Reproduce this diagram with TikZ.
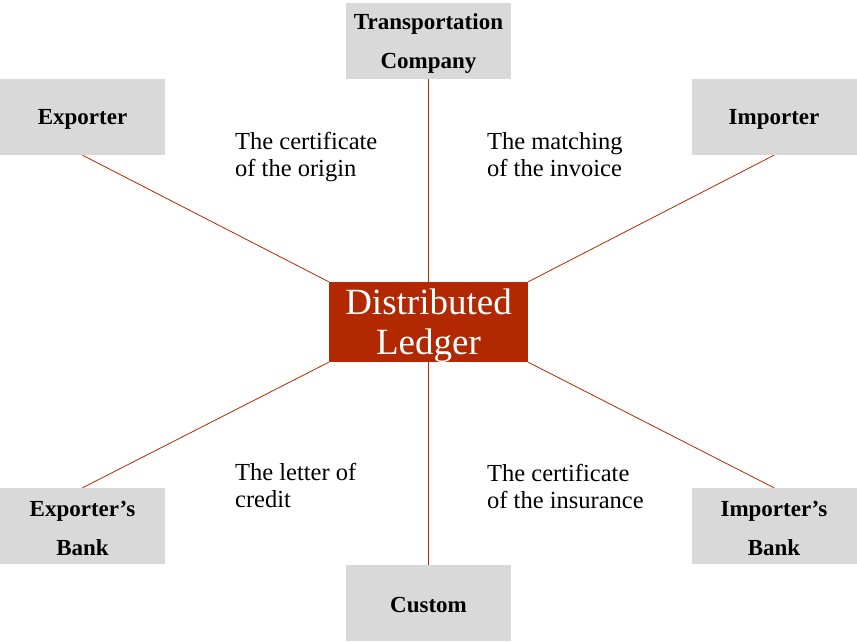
\documentclass[tikz,border=0pt]{standalone}
\usepackage{fontspec}
\setmainfont{Liberation Serif}
\definecolor{ledger}{RGB}{178,40,0}
\definecolor{boxgray}{RGB}{217,217,217}
\begin{document}
\begin{tikzpicture}[x=1pt,y=-1pt,
  party/.style={fill=boxgray,draw=none,minimum width=165pt,minimum height=76pt,inner sep=0pt},
  ptext/.style={yshift=-2.5pt,inner sep=0pt,align=center,font=\fontsize{23}{39}\selectfont\bfseries,text=black},
  hub/.style={fill=ledger,draw=none,minimum width=199pt,minimum height=80pt,inner sep=0pt},
  htext/.style={yshift=-4pt,inner sep=0pt,align=center,font=\fontsize{37}{40}\selectfont,text=white},
  note/.style={anchor=north west,inner sep=0pt,align=left,font=\fontsize{24.5}{27}\selectfont},
  link/.style={draw=ledger,line width=0.8pt}]
\useasboundingbox (0,0) rectangle (857,642);
\node[hub,label={[htext]center:{Distributed\\Ledger}}] (dl) at (428.5,322) {};
\node[party,label={[ptext]center:{Transportation\\Company}}] (tc) at (428.5,41) {};
\node[party,label={[ptext]center:Exporter}] (ex) at (82.5,117) {};
\node[party,label={[ptext]center:Importer}] (im) at (774,117) {};
\node[party,label={[ptext]center:{Exporter’s\\Bank}}] (eb) at (82.5,526) {};
\node[party,label={[ptext]center:{Importer’s\\Bank}}] (ib) at (774,526) {};
\node[party,label={[ptext]center:Custom}] (cu) at (428.5,603) {};
\draw[link] (tc.south) -- (dl.north);
\draw[link] (cu.north) -- (dl.south);
\draw[link] (ex.south) -- (dl.north west);
\draw[link] (im.south) -- (dl.north east);
\draw[link] (eb.north) -- (dl.south west);
\draw[link] (ib.north) -- (dl.south east);
\node[note] (n1) at (235,132) {The certificate\\of the origin};
\node[note] (n2) at (487,132) {The matching\\of the invoice};
\node[note] (n3) at (235,463) {The letter of\\credit};
\node[note] (n4) at (487,464) {The certificate\\of the insurance};
\end{tikzpicture}
\end{document}
